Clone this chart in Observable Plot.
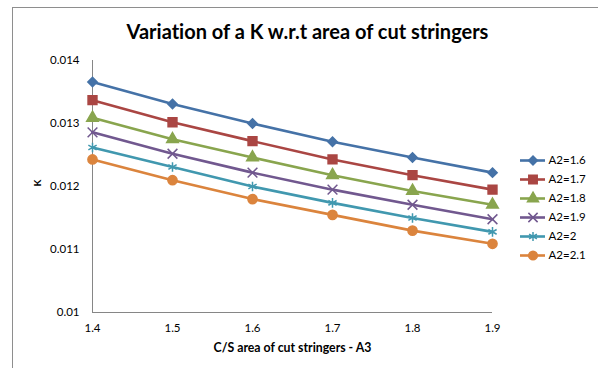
<!DOCTYPE html>
<html>
<head>
<meta charset="utf-8">
<script src="https://cdn.jsdelivr.net/npm/d3@7"></script>
<script src="https://cdn.jsdelivr.net/npm/@observablehq/plot@0.6"></script>
<style>
  html, body { margin: 0; padding: 0; background: #fff; overflow: hidden; }
  #wrap { position: relative; width: 598px; height: 368px; overflow: hidden; }
  #border { position: absolute; left: 12px; top: 7px; width: 700px; height: 500px;
            border-left: 1px solid #8e8e8e; border-top: 1px solid #8e8e8e; }
  #chart, #legend { position: absolute; left: 0; top: 0; }
  #legend { left: 513px; top: 133px; }
  svg { font-family: Lato, "Liberation Sans", sans-serif; font-variant-ligatures: none; overflow: visible; }
</style>
</head>
<body>
<div id="wrap">
  <div id="border"></div>
  <div id="chart"></div>
  <div id="legend"></div>
</div>
<script>
// C/S area of cut stringers (A3)
const areaA3 = [1.4, 1.5, 1.6, 1.7, 1.8, 1.9];

// Series names (A2 values)
const seriesNames = ["A2=1.6", "A2=1.7", "A2=1.8", "A2=1.9", "A2=2", "A2=2.1"];

// K values per series, one per A3 value
const kA2_16 = [0.01366, 0.01331, 0.01300, 0.01271, 0.01246, 0.01222];
const kA2_17 = [0.01337, 0.01302, 0.01272, 0.01243, 0.01218, 0.01195];
const kA2_18 = [0.01309, 0.01275, 0.01246, 0.01218, 0.01193, 0.01171];
const kA2_19 = [0.01286, 0.01252, 0.01222, 0.01195, 0.01171, 0.01148];
const kA2_20 = [0.01262, 0.01231, 0.01200, 0.01174, 0.01150, 0.01128];
const kA2_21 = [0.01243, 0.01210, 0.01180, 0.01155, 0.01130, 0.01109];

// Y tick values
const kTicks = [0.010, 0.011, 0.012, 0.013, 0.014];

const kSeries = [kA2_16, kA2_17, kA2_18, kA2_19, kA2_20, kA2_21];
const colors = ["#4572A7", "#AA4643", "#89A54E", "#71588F", "#4198AF", "#DB843D"];
const symbols = ["diamond2", "square", "triangle", "times", "asterisk", "circle"];
const radii = [4.2, 5, 4.3, 4.5, 4.5, 4.6];

const rows = [];
seriesNames.forEach((name, i) => {
  areaA3.forEach((a, j) => rows.push({series: name, a3: a, k: kSeries[i][j]}));
});

const fmt = d => String(+d.toFixed(3));

const dotMarks = seriesNames.map((name, i) =>
  Plot.dot(rows.filter(r => r.series === name), {
    x: "a3", y: "k", symbol: () => symbols[i],
    r: radii[i], fill: colors[i], stroke: colors[i], strokeWidth: 1.5
  })
);

const chart = Plot.plot({
  width: 598,
  height: 368,
  marginLeft: 92,
  marginRight: 106,
  marginTop: 60,
  marginBottom: 56,
  style: {fontSize: "11.5px", color: "#000", background: "transparent"},
  x: {domain: [1.4, 1.9], ticks: areaA3, tickFormat: fmt, tickSize: 0, tickPadding: 11, label: null},
  y: {domain: [0.010, 0.014], ticks: kTicks, tickFormat: fmt, tickSize: 0, tickPadding: 13, label: null},
  color: {domain: seriesNames, range: colors},
  symbol: {type: "identity"},
  marks: [
    Plot.ruleY([0.010], {stroke: "#868686", strokeWidth: 1}),
    Plot.ruleX([1.4], {stroke: "#868686", strokeWidth: 1}),
    Plot.line(rows, {x: "a3", y: "k", stroke: "series", strokeWidth: 2.6, curve: "linear"}),
    ...dotMarks,
    Plot.text(["Variation of a K w.r.t area of cut stringers"], {
      frameAnchor: "top", lineAnchor: "middle", dy: -28, dx: 15, text: d => d,
      fontSize: 20, fontWeight: "bold", fill: "#000"
    }),
    Plot.text(["C/S area of cut stringers - A3"], {
      frameAnchor: "bottom", lineAnchor: "middle", dy: 36, text: d => d,
      fontSize: 12.3, fontWeight: "bold", fill: "#000"
    }),
    Plot.text(["K"], {
      frameAnchor: "left", dx: -55, text: d => d, rotate: -90,
      fontSize: 10, fontWeight: "bold", fill: "#000"
    })
  ]
});
document.getElementById("chart").appendChild(chart);

// Legend: line sample, marker and name for each series
const legendDots = seriesNames.map((name, i) =>
  Plot.dot([name], {
    x: () => 19.5, y: d => d, symbol: () => symbols[i],
    r: radii[i] * 0.95, fill: colors[i], stroke: colors[i], strokeWidth: 1.5
  })
);
const legend = Plot.plot({
  width: 85,
  height: 150,
  margin: 0,
  style: {fontSize: "11.5px", background: "transparent"},
  x: {type: "identity", axis: null},
  y: {type: "point", domain: seriesNames, range: [16, 133.5], axis: null},
  symbol: {type: "identity"},
  marks: [
    Plot.ruleY(seriesNames, {y: d => d, x1: 7, x2: 32, stroke: (d, i) => colors[i], strokeWidth: 2.6}),
    ...legendDots,
    Plot.text(seriesNames, {x: () => 35, y: d => d, text: d => d, textAnchor: "start", fill: "#000", fontSize: 11.5})
  ]
});
document.getElementById("legend").appendChild(legend);
</script>
</body>
</html>
